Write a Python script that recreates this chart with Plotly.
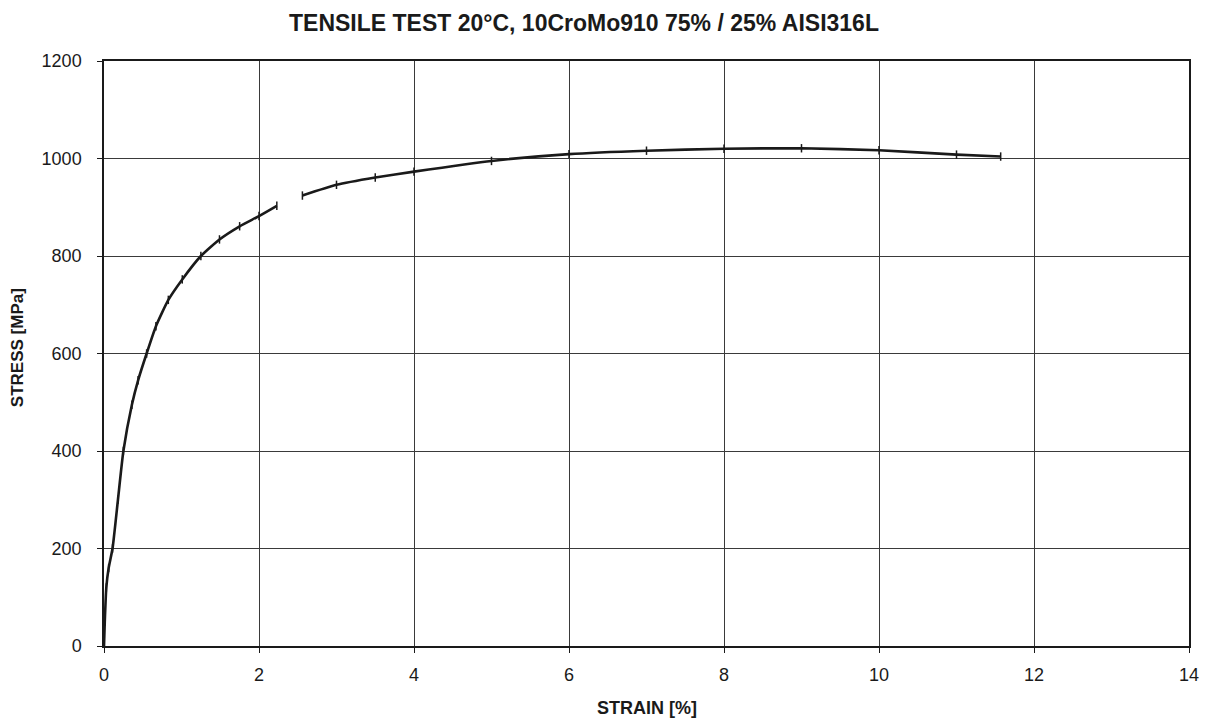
import plotly.graph_objects as go

# Tensile test record: two recorded segments of the stress-strain curve
seg1_strain = [0.0, 0.01, 0.03, 0.06, 0.11, 0.18, 0.25, 0.36, 0.44, 0.55, 0.67,
               0.83, 1.01, 1.25, 1.49, 1.75, 2.0, 2.23]
seg1_stress = [0, 50, 120, 160, 200, 300, 400, 495, 545, 600, 656,
               710, 752, 800, 834, 861, 882, 903]

seg2_strain = [2.56, 3.0, 3.5, 4.0, 5.0, 6.0, 7.0, 8.0, 9.0, 10.0, 11.0, 11.57]
seg2_stress = [924, 946, 961, 973, 995, 1009, 1016, 1020, 1021, 1017, 1008, 1004]

x_ticks = [0, 2, 4, 6, 8, 10, 12, 14]
y_ticks = [0, 200, 400, 600, 800, 1000, 1200]

FONT = "Liberation Sans, Arial, sans-serif"
INK = "#1a1a1a"

fig = go.Figure()
for xs, ys in [(seg1_strain, seg1_stress), (seg2_strain, seg2_stress)]:
    fig.add_trace(go.Scatter(
        x=xs, y=ys, mode="lines+markers",
        line=dict(color=INK, width=2.6, shape="spline", smoothing=0.5),
        marker=dict(symbol="line-ns", size=6, line=dict(color=INK, width=1.5)),
        showlegend=False, hoverinfo="x+y",
    ))

axis_common = dict(
    showline=True, linecolor=INK, linewidth=1.5, mirror=True,
    showgrid=True, gridcolor="#3a3a3a", gridwidth=1,
    ticks="outside", ticklen=5, tickcolor=INK, tickwidth=1,
    zeroline=False,
    tickfont=dict(family=FONT, size=18, color=INK),
)

fig.update_xaxes(range=[0, 14], tickvals=x_ticks, ticklabelstandoff=7, **axis_common)
fig.update_yaxes(range=[0, 1200], tickvals=y_ticks, ticklabelstandoff=12, **axis_common)

PLOT_W = 1211 - 104 - 20
PLOT_H = 722 - 61 - 76

fig.update_layout(
    width=1211, height=722,
    margin=dict(l=104, r=20, t=61, b=76),
    paper_bgcolor="white", plot_bgcolor="white",
    title=dict(
        text="TENSILE TEST 20\u00b0C, 10CroMo910 75% / 25% AISI316L",
        font=dict(family=FONT, size=23, color=INK, weight="bold"),
        x=584 / 1211, xanchor="center", xref="container",
        y=1 - 23 / 722, yanchor="middle", yref="container",
    ),
    annotations=[
        dict(text="<b>STRAIN [%]</b>", x=0.5, xref="paper", y=-62 / PLOT_H, yref="paper",
             xanchor="center", yanchor="middle", showarrow=False,
             font=dict(family=FONT, size=18, color=INK)),
        dict(text="<b>STRESS [MPa]</b>", x=(17 - 104) / PLOT_W, xref="paper",
             y=(646 - 348) / PLOT_H, yref="paper",
             xanchor="center", yanchor="middle", showarrow=False, textangle=-90,
             font=dict(family=FONT, size=17, color=INK)),
    ],
)

fig.write_html("out.html")
